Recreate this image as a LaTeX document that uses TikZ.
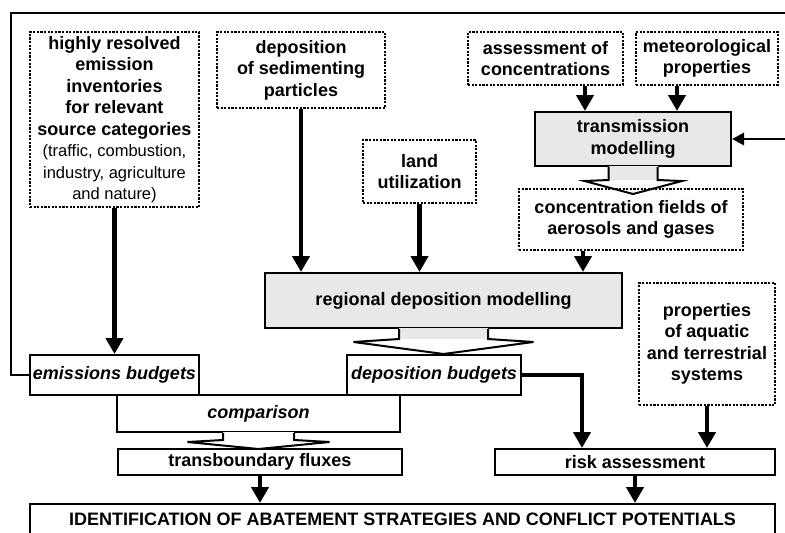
\documentclass[tikz,border=0pt]{standalone}
\usepackage{fontspec}
\setmainfont{Liberation Sans}
\usetikzlibrary{arrows.meta}
\definecolor{boxgray}{gray}{0.91}
\newcommand{\smallnote}{\mdseries\fontsize{16.5}{20}\selectfont}

\begin{document}
\begin{tikzpicture}[x=1pt, y=-1pt,
    every node/.style={font=\fontsize{18}{21.5}\selectfont\bfseries, align=center, inner sep=0pt},
    dotbox/.style={draw, line width=2.2pt, dash pattern=on 2.2pt off 1.4pt},
    solidbox/.style={draw, line width=2pt},
    modelbox/.style={solidbox, fill=boxgray},
    flow/.style={line width=4.3pt, -{Triangle[width=17pt,length=16pt]}},
    feedback/.style={line width=2.8pt, -{Triangle[width=12pt,length=12pt]}},
    hollow/.style={line width=2pt}]
    \useasboundingbox (0,0) rectangle (785,533);
    \clip (0,0) rectangle (785,533);

    % Input data
    \node[dotbox, minimum width=169pt, minimum height=175pt] (inv) at (114.5,119.5)
        {highly resolved\\emission\\inventories\\for relevant\\source categories\\
         {\smallnote (traffic, combustion,}\\{\smallnote industry, agriculture}\\{\smallnote and nature)}};
    \node[dotbox, minimum width=168pt, minimum height=76pt] (sed) at (301,70)
        {deposition\\of sedimenting\\particles};
    \node[dotbox, minimum width=113pt, minimum height=63pt] (land) at (419.5,171.5)
        {land\\utilization};
    \node[dotbox, minimum width=155pt, minimum height=53pt] (assess) at (545.5,58.5)
        {assessment of\\concentrations};
    \node[dotbox, minimum width=142pt, minimum height=53pt] (meteo) at (707,58.5)
        {meteorological\\properties};
    \node[dotbox, minimum width=224pt, minimum height=61pt] (conc) at (631,219.5)
        {concentration fields of\\aerosols and gases};
    \node[dotbox, minimum width=136pt, minimum height=122pt] (aqua) at (707,344)
        {properties\\of aquatic\\and terrestrial\\systems};

    % Models
    \node[modelbox, minimum width=196pt, minimum height=54pt] (trans) at (633,139)
        {transmission\\modelling};
    \node[modelbox, minimum width=357pt, minimum height=55pt] (regdep) at (443.5,300.5)
        {regional deposition modelling};

    % Results
    \node[solidbox, minimum width=169pt, minimum height=40pt] (embud) at (114.5,375)
        {\textit{emissions budgets}};
    \node[solidbox, minimum width=174pt, minimum height=40pt] (depbud) at (434,375)
        {\textit{deposition budgets}};
    \node[solidbox, minimum width=283pt, minimum height=37pt] (comp) at (258.5,413.5)
        {\textit{comparison}};
    \node[solidbox, minimum width=284pt, minimum height=26pt] (trflux) at (260,462)
        {transboundary fluxes};
    \node[solidbox, minimum width=280pt, minimum height=26pt] (risk) at (635,462)
        {risk assessment};
    \node[solidbox, minimum width=745pt, text height=21.5pt, text depth=30pt, anchor=north] (ident) at (402.5,503)
        {IDENTIFICATION OF ABATEMENT STRATEGIES AND CONFLICT POTENTIALS};

    % Hollow arrows
    \fill[boxgray] ([xshift=-24.5pt,yshift=1.2pt]trans.south) rectangle ([xshift=24.5pt,yshift=-13pt]trans.south);
    \draw[hollow] (trans.south) ++(-24.5,0) -- ++(0,13) -- ++(-24,1) -- ++(48.5,13) -- ++(49,-13) -- ++(-24.5,-1) -- ++(0,-13);
    \fill[boxgray] ([xshift=-44.5pt,yshift=1.2pt]regdep.south) rectangle ([xshift=44.5pt,yshift=-10pt]regdep.south);
    \draw[hollow] (regdep.south) ++(-44.5,0) -- ++(0,10) -- ++(-45.5,3) -- ++(90,12) -- ++(90,-12) -- ++(-45.5,-3) -- ++(0,-10);
    \fill[white] ([xshift=-35.5pt,yshift=1.2pt]comp.south) rectangle ([xshift=35.5pt,yshift=-7pt]comp.south);
    \draw[hollow] (comp.south) ++(-35.5,0) -- ++(0,7) -- ++(-35.5,2) -- ++(71,7) -- ++(71,-7) -- ++(-35.5,-2) -- ++(0,-7);

    % Flows
    \draw[flow] (inv.south) -- (embud.north);
    \draw[flow] (sed.south) -- (sed.south |- regdep.north);
    \draw[flow] (land.south) -- (land.south |- regdep.north);
    \draw[flow] ([xshift=-48pt]conc.south) -- ([xshift=-48pt]conc.south |- regdep.north);
    \draw[flow] ([xshift=-48pt]trans.north |- assess.south) -- ([xshift=-48pt]trans.north);
    \draw[flow] ([xshift=44pt]trans.north |- meteo.south) -- ([xshift=44pt]trans.north);
    \draw[flow] (depbud.east) -| ([xshift=-53pt]risk.north);
    \draw[flow] (aqua.south) -- (aqua.south |- risk.north);
    \draw[flow] (trflux.south) -- (trflux.south |- ident.north);
    \draw[flow] (risk.south) -- (risk.south |- ident.north);

    % Feedback loop
    \coordinate (topright) at (795,13);
    \draw[feedback] (embud.west) -- ++(-18,0) |- (topright) |- (trans.east);

\end{tikzpicture}
\end{document}
